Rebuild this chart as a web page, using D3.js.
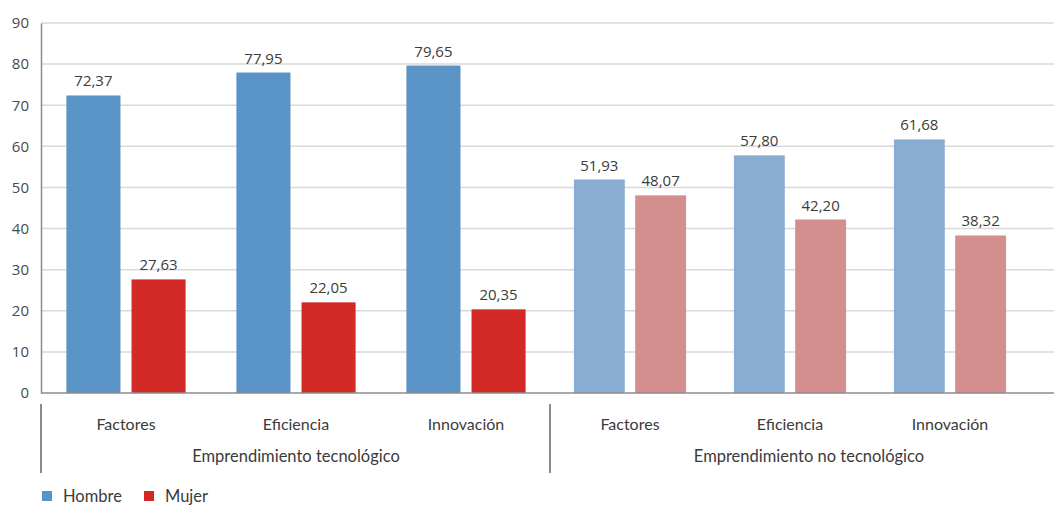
<!DOCTYPE html>
<html>
<head>
<meta charset="utf-8">
<script src="https://cdn.jsdelivr.net/npm/d3@7"></script>
<style>
  body { margin: 0; background: #fff; }
  text { font-family: Lato, "Open Sans", sans-serif; fill: #3b3b3b; }
</style>
</head>
<body>
<figure id="bar" style="margin:0"></figure>
<script>
const groups = ["Emprendimiento tecnológico", "Emprendimiento no tecnológico"];
const categories = ["Factores", "Eficiencia", "Innovación"];
const series = ["Hombre", "Mujer"];
const hombreValues = [72.37, 77.95, 79.65, 51.93, 57.80, 61.68];
const mujerValues = [27.63, 22.05, 20.35, 48.07, 42.20, 38.32];
const yTicks = [0, 10, 20, 30, 40, 50, 60, 70, 80, 90];

const width = 1054, height = 505;
const plotLeft = 41, plotRight = 1054, plotTop = 23, plotBottom = 393;

// light tones for the non-technological group
const colors = {
  Hombre: ["#5a93c6", "#88acd2"],
  Mujer: ["#d42a27", "#d38e8e"]
};

const data = [];
groups.forEach((g, gi) => {
  categories.forEach((c, ci) => {
    const i = gi * categories.length + ci;
    data.push({ group: g, gi: gi, cat: c, Hombre: hombreValues[i], Mujer: mujerValues[i] });
  });
});

const svg = d3.select("figure#bar")
  .append("svg")
  .attr("width", width)
  .attr("height", height);

const y = d3.scaleLinear().domain([0, 90]).range([plotBottom, plotTop]);

// the two groups do not have the same width in the original
const groupRange = d3.scaleOrdinal().domain(groups).range([[41, 551], [550, 1030]]);
// group titles sit a bit right of the bars in the second group
const groupLabelRange = d3.scaleOrdinal().domain(groups).range([[41, 551], [550, 1068]]);
const xCat = {};
groups.forEach(g => {
  xCat[g] = d3.scaleBand().domain(categories).range(groupRange(g)).padding(0);
});
const xIn = g => d3.scaleBand().domain(series)
  .range([0, xCat[g].bandwidth()]).paddingInner(0.17).paddingOuter(0.39);

// grid
svg.append("g")
  .selectAll("line")
  .data(yTicks.slice(1))
  .enter()
  .append("line")
  .attr("x1", plotLeft)
  .attr("x2", plotRight)
  .attr("y1", d => y(d))
  .attr("y2", d => y(d))
  .attr("stroke", "#d9d9d9")
  .attr("stroke-width", 1.5);

// y axis
const yAxis = svg.append("g")
  .attr("transform", "translate(" + plotLeft + ",0)")
  .call(d3.axisLeft(y).tickValues(yTicks).tickSize(0).tickPadding(12));
yAxis.select(".domain").attr("stroke", "#8c8c8c").attr("stroke-width", 1.5);
yAxis.selectAll("text")
  .style("font-family", "'Open Sans', sans-serif")
  .style("font-size", "15px")
  .style("fill", "#4a4a4a");

// bars
data.forEach(d => {
  const inner = xIn(d.group);
  const cx = xCat[d.group](d.cat);
  series.forEach(s => {
    svg.append("rect")
      .attr("x", cx + inner(s))
      .attr("y", y(d[s]))
      .attr("width", inner.bandwidth())
      .attr("height", y(0) - y(d[s]))
      .attr("fill", colors[s][d.gi]);
    svg.append("text")
      .attr("x", cx + inner(s) + inner.bandwidth() / 2)
      .attr("y", y(d[s]) - 9)
      .attr("text-anchor", "middle")
      .style("font-family", "'Open Sans', sans-serif")
      .style("font-size", "15px")
      .text(d3.format(".2f")(d[s]).replace(".", ","));
  });
});

// baseline
svg.append("line")
  .attr("x1", plotLeft).attr("x2", plotRight)
  .attr("y1", y(0)).attr("y2", y(0))
  .attr("stroke", "#8c8c8c")
  .attr("stroke-width", 1.5);

// category and group labels
groups.forEach(g => {
  const r = groupRange(g);
  const lr = groupLabelRange(g);
  svg.append("line")
    .attr("x1", r[0]).attr("x2", r[0])
    .attr("y1", 404).attr("y2", 473)
    .attr("stroke", "#8c8c8c")
    .attr("stroke-width", 2);
  categories.forEach(c => {
    svg.append("text")
      .attr("x", xCat[g](c) + xCat[g].bandwidth() / 2)
      .attr("y", 430)
      .attr("text-anchor", "middle")
      .style("font-size", "16px")
      .text(c);
  });
  svg.append("text")
    .attr("x", (lr[0] + lr[1]) / 2)
    .attr("y", 462)
    .attr("text-anchor", "middle")
    .style("font-size", "16.5px")
    .text(g);
});

// legend
const legend = svg.append("g").attr("transform", "translate(42,491)");
series.forEach((s, i) => {
  const item = legend.append("g").attr("transform", "translate(" + (i * 102) + ",0)");
  item.append("rect").attr("width", 10).attr("height", 10).attr("fill", colors[s][0]);
  item.append("text").attr("x", 21).attr("y", 10.5).style("font-size", "16.5px").text(s);
});
</script>
</body>
</html>
